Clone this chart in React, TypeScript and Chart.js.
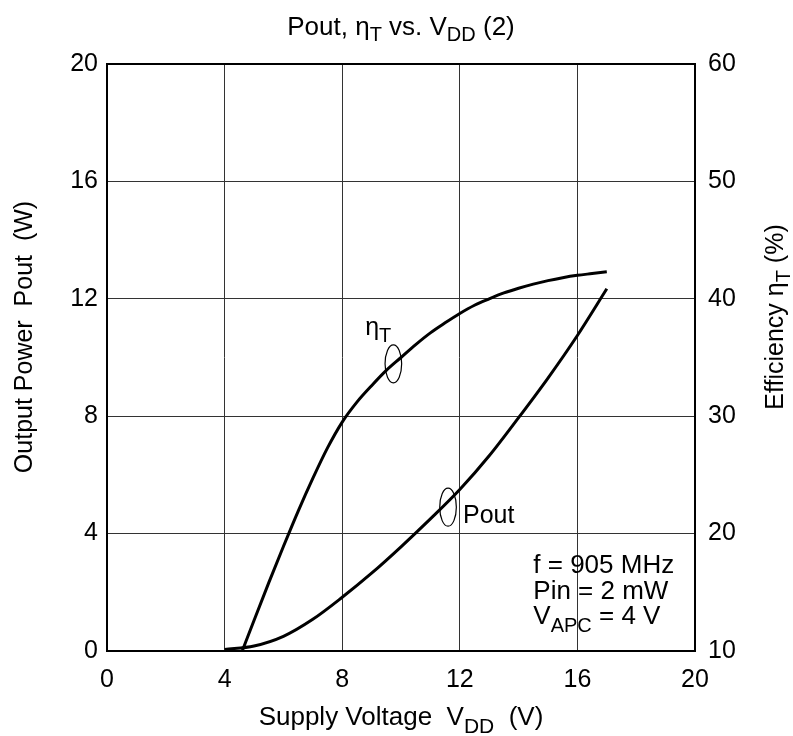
import React, { useEffect, useRef } from 'react';
import { Chart, registerables } from 'chart.js';

Chart.register(...registerables);

// ---- data ----
const vddPout = [4, 5, 6, 7, 8, 9, 10, 11, 12, 13, 14, 15, 16, 17];
const poutW = [0.05, 0.17, 0.5, 1.08, 1.83, 2.65, 3.55, 4.5, 5.5, 6.65, 7.95, 9.3, 10.75, 12.34];
const vddEta = [4.6, 5, 5.5, 6, 6.5, 7, 7.5, 8, 8.5, 9, 9.5, 10, 10.5, 11, 11.5, 12, 12.5, 13, 13.5, 14, 14.5, 15, 15.5, 16, 16.5, 17];
const etaPct = [10, 12.6, 15.8, 18.9, 21.9, 24.7, 27.3, 29.5, 31.2, 32.6, 33.9, 35.0, 36.1, 37.1, 37.95, 38.75, 39.45, 40.0, 40.5, 40.9, 41.25, 41.55, 41.8, 42.0, 42.15, 42.3];

const xTicks = [0, 4, 8, 12, 16, 20];
const leftTicks = [0, 4, 8, 12, 16, 20];
const rightTicks = [10, 20, 30, 40, 50, 60];

const conditionLines = ['f = 905 MHz', 'Pin = 2 mW'];

const FONT = '"Liberation Sans", Arial, Helvetica, sans-serif';

type Part = { t: string; sub?: boolean };

function richWidth(ctx: CanvasRenderingContext2D, parts: Part[], size: number, subSize: number) {
  let w = 0;
  for (const p of parts) {
    ctx.font = `${p.sub ? subSize : size}px ${FONT}`;
    w += ctx.measureText(p.t).width;
  }
  return w;
}

function drawRich(
  ctx: CanvasRenderingContext2D,
  parts: Part[],
  x: number,
  y: number,
  align: 'left' | 'center',
  size = 25,
  subSize = 20,
  subShift = 7
) {
  const w = richWidth(ctx, parts, size, subSize);
  let cx = align === 'center' ? x - w / 2 : x;
  ctx.textAlign = 'left';
  ctx.textBaseline = 'alphabetic';
  ctx.fillStyle = '#000';
  for (const p of parts) {
    ctx.font = `${p.sub ? subSize : size}px ${FONT}`;
    ctx.fillText(p.t, cx, p.sub ? y + subShift : y);
    cx += ctx.measureText(p.t).width;
  }
}

const textPlugin = {
  id: 'textPlugin',
  afterDatasetsDraw(chart: any) {
    const ctx: CanvasRenderingContext2D = chart.ctx;
    const { chartArea } = chart;
    const xs = chart.scales.x;
    const yl = chart.scales.yL;
    const yr = chart.scales.yR;
    ctx.save();

    // frame
    ctx.strokeStyle = '#000';
    ctx.lineWidth = 2;
    ctx.strokeRect(chartArea.left, chartArea.top, chartArea.right - chartArea.left, chartArea.bottom - chartArea.top);

    const cxMid = (chartArea.left + chartArea.right) / 2;

    // title
    drawRich(ctx, [{ t: 'Pout, η' }, { t: 'T', sub: true }, { t: ' vs. V' }, { t: 'DD', sub: true }, { t: ' (2)' }], cxMid, 35, 'center', 26, 20, 6);

    // x axis title
    drawRich(ctx, [{ t: 'Supply Voltage  V' }, { t: 'DD', sub: true }, { t: '  (V)' }], cxMid, 725, 'center', 26, 21, 8);

    // left axis title
    ctx.save();
    ctx.translate(31.5, 337);
    ctx.rotate(-Math.PI / 2);
    drawRich(ctx, [{ t: 'Output Power  Pout  (W)' }], 0, 0, 'center', 25);
    ctx.restore();

    // right axis title
    ctx.save();
    ctx.translate(783, 317);
    ctx.rotate(-Math.PI / 2);
    drawRich(ctx, [{ t: 'Efficiency ' }, { t: 'η' }, { t: 'T', sub: true }, { t: ' (%)' }], 0, 0, 'center', 25, 20, 7);
    ctx.restore();

    // curve labels with ellipses
    ctx.lineWidth = 1.2;
    ctx.strokeStyle = '#000';
    ctx.beginPath();
    ctx.ellipse(xs.getPixelForValue(9.74), yr.getPixelForValue(34.46), 8.3, 19, 0, 0, Math.PI * 2);
    ctx.stroke();
    ctx.beginPath();
    ctx.ellipse(xs.getPixelForValue(11.6), yl.getPixelForValue(4.9), 8.3, 19, 0, 0, Math.PI * 2);
    ctx.stroke();

    drawRich(ctx, [{ t: 'η' }, { t: 'T', sub: true }], xs.getPixelForValue(8.78), yr.getPixelForValue(36.9), 'left', 25, 20, 7);
    drawRich(ctx, [{ t: 'Pout' }], xs.getPixelForValue(12.11), yl.getPixelForValue(4.36), 'left', 25);

    // conditions
    const bx = xs.getPixelForValue(14.5);
    const by = yl.getPixelForValue(2.65);
    drawRich(ctx, [{ t: conditionLines[0] }], bx, by, 'left', 26);
    drawRich(ctx, [{ t: conditionLines[1] }], bx, by + 26, 'left', 26);
    drawRich(ctx, [{ t: 'V' }, { t: 'APC', sub: true }, { t: ' = 4 V' }], bx, by + 51, 'left', 26, 20, 8);

    ctx.restore();
  },
};

export default function App() {
  const ref = useRef<HTMLCanvasElement | null>(null);

  useEffect(() => {
    if (!ref.current) return;
    const tickFont = { family: FONT, size: 25 };
    const chart = new Chart(ref.current, {
      type: 'line',
      data: {
        datasets: [
          {
            label: 'Pout',
            data: vddPout.map((x, i) => ({ x, y: poutW[i] })),
            yAxisID: 'yL',
            borderColor: '#000',
            borderWidth: 3,
            pointRadius: 0,
            fill: false,
            cubicInterpolationMode: 'monotone',
          },
          {
            label: 'ηT',
            data: vddEta.map((x, i) => ({ x, y: etaPct[i] })),
            yAxisID: 'yR',
            borderColor: '#000',
            borderWidth: 3,
            pointRadius: 0,
            fill: false,
            cubicInterpolationMode: 'monotone',
          },
        ],
      },
      options: {
        responsive: false,
        animation: false,
        layout: { padding: { top: 64, left: 0, right: 0, bottom: 0 } },
        plugins: { legend: { display: false }, title: { display: false }, tooltip: { enabled: false } },
        scales: {
          x: {
            type: 'linear',
            min: 0,
            max: 20,
            afterBuildTicks: (s: any) => {
              s.ticks = xTicks.map((v) => ({ value: v }));
            },
            afterFit: (s: any) => {
              s.height = 85;
            },
            grid: { color: '#333', lineWidth: 1, drawTicks: false },
            border: { display: false },
            ticks: { font: tickFont, color: '#000', padding: 14, maxRotation: 0, autoSkip: false },
          },
          yL: {
            type: 'linear',
            position: 'left',
            min: 0,
            max: 20,
            afterBuildTicks: (s: any) => {
              s.ticks = leftTicks.map((v) => ({ value: v }));
            },
            afterFit: (s: any) => {
              s.width = 107;
            },
            grid: { color: '#333', lineWidth: 1, drawTicks: false },
            border: { display: false },
            ticks: { font: tickFont, color: '#000', padding: 9, autoSkip: false },
          },
          yR: {
            type: 'linear',
            position: 'right',
            min: 10,
            max: 60,
            afterBuildTicks: (s: any) => {
              s.ticks = rightTicks.map((v) => ({ value: v }));
            },
            afterFit: (s: any) => {
              s.width = 98;
            },
            grid: { display: false, drawTicks: false },
            border: { display: false },
            ticks: { font: tickFont, color: '#000', padding: 13, autoSkip: false },
          },
        },
      },
      plugins: [textPlugin],
    } as any);
    return () => chart.destroy();
  }, []);

  return (
    <div style={{ position: 'absolute', left: 0, top: 0, width: 793, height: 736, background: '#fff' }}>
      <canvas ref={ref} width={793} height={736} style={{ display: 'block', width: 793, height: 736 }} />
    </div>
  );
}
